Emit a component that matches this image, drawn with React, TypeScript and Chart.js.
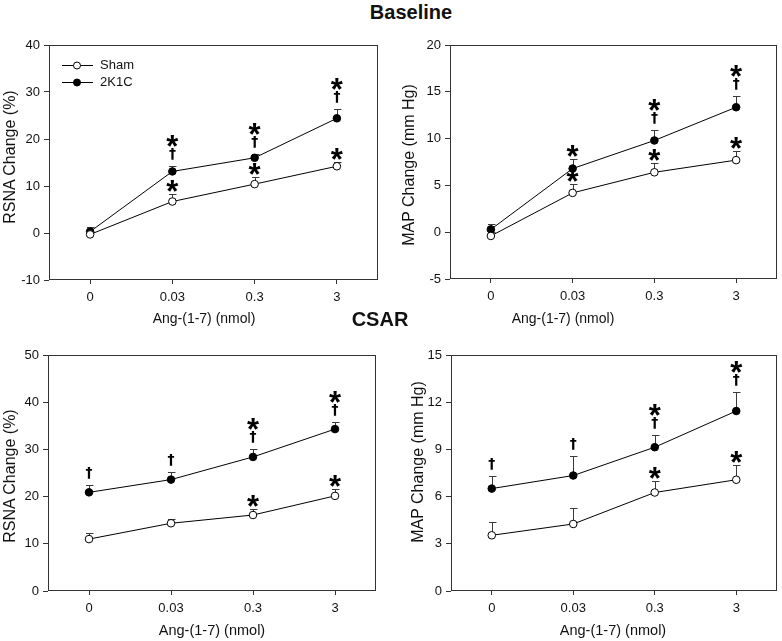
import React, { useEffect, useRef } from "react";
import { Chart, registerables } from "chart.js";

Chart.register(...registerables);

const FONT = "'Liberation Sans', Arial, Helvetica, sans-serif";
const AX = "#333333";
const TXT = "#111111";

// ---------- data ----------
const doses = ["0", "0.03", "0.3", "3"];
const groupNames = ["Sham", "2K1C"];

// Baseline – RSNA
const baseRsnaSham = [-0.3, 6.7, 10.4, 14.2];
const baseRsnaShamSem = [0.5, 1.5, 1.5, 1.0];
const baseRsna2K1C = [0.3, 13.1, 16.0, 24.4];
const baseRsna2K1CSem = [1.0, 1.2, 0.8, 1.9];
const baseRsnaShamSig = ["", "*", "*", "*"];
const baseRsna2K1CSig = ["", "*†", "*†", "*†"];
const baseRsnaTicks = [-10, 0, 10, 20, 30, 40];

// Baseline – MAP
const baseMapSham = [-0.4, 4.2, 6.4, 7.7];
const baseMapShamSem = [0.4, 0.9, 1.0, 1.0];
const baseMap2K1C = [0.3, 6.8, 9.8, 13.35];
const baseMap2K1CSem = [0.6, 1.0, 1.15, 1.2];
const baseMapShamSig = ["", "*", "*", "*"];
const baseMap2K1CSig = ["", "*", "*†", "*†"];
const baseMapTicks = [-5, 0, 5, 10, 15, 20];

// CSAR – RSNA
const csarRsnaSham = [11.0, 14.35, 16.1, 20.15];
const csarRsnaShamSem = [1.25, 1.0, 1.3, 1.45];
const csarRsna2K1C = [20.9, 23.6, 28.4, 34.3];
const csarRsna2K1CSem = [1.5, 1.6, 1.6, 1.6];
const csarRsnaShamSig = ["", "", "*", "*"];
const csarRsna2K1CSig = ["†", "†", "*†", "*†"];
const csarRsnaTicks = [0, 10, 20, 30, 40, 50];

// CSAR – MAP
const csarMapSham = [3.54, 4.26, 6.26, 7.07];
const csarMapShamSem = [0.83, 1.02, 0.74, 0.93];
const csarMap2K1C = [6.51, 7.34, 9.14, 11.44];
const csarMap2K1CSem = [0.79, 1.27, 0.75, 1.18];
const csarMapShamSig = ["", "", "*", "*"];
const csarMap2K1CSig = ["†", "†", "*†", "*†"];
const csarMapTicks = [0, 3, 6, 9, 12, 15];

const xTitle = "Ang-(1-7) (nmol)";
const rsnaTitle = "RSNA Change (%)";
const mapTitle = "MAP Change (mm Hg)";

type PanelCfg = {
  left: number; top: number; w: number; h: number;
  padTop: number; padRight: number; yW: number; xH: number;
  ticks: number[];
  sham: number[]; shamSem: number[]; shamSig: string[];
  k: number[]; kSem: number[]; kSig: string[];
  legend: boolean;
};

const panels: PanelCfg[] = [
  { left: 0, top: 30, w: 390, h: 290, padTop: 15, padRight: 12, yW: 49, xH: 40, ticks: baseRsnaTicks,
    sham: baseRsnaSham, shamSem: baseRsnaShamSem, shamSig: baseRsnaShamSig,
    k: baseRsna2K1C, kSem: baseRsna2K1CSem, kSig: baseRsna2K1CSig, legend: true },
  { left: 390, top: 30, w: 392, h: 290, padTop: 15, padRight: 4, yW: 60, xH: 41, ticks: baseMapTicks,
    sham: baseMapSham, shamSem: baseMapShamSem, shamSig: baseMapShamSig,
    k: baseMap2K1C, kSem: baseMap2K1CSem, kSig: baseMap2K1CSig, legend: false },
  { left: 0, top: 330, w: 390, h: 311, padTop: 25, padRight: 14, yW: 48, xH: 50, ticks: csarRsnaTicks,
    sham: csarRsnaSham, shamSem: csarRsnaShamSem, shamSig: csarRsnaShamSig,
    k: csarRsna2K1C, kSem: csarRsna2K1CSem, kSig: csarRsna2K1CSig, legend: false },
  { left: 390, top: 330, w: 392, h: 311, padTop: 25, padRight: 4, yW: 61, xH: 50, ticks: csarMapTicks,
    sham: csarMapSham, shamSem: csarMapShamSem, shamSig: csarMapShamSig,
    k: csarMap2K1C, kSem: csarMap2K1CSem, kSig: csarMap2K1CSig, legend: false },
];

function drawCentered(ctx: CanvasRenderingContext2D, s: string, x: number, cy: number) {
  const m = ctx.measureText(s);
  const asc = m.actualBoundingBoxAscent, desc = m.actualBoundingBoxDescent;
  ctx.fillText(s, x, cy + (asc - desc) / 2);
}

function makeDecor(cfg: PanelCfg) {
  const sems = [cfg.shamSem, cfg.kSem];
  const vals = [cfg.sham, cfg.k];
  const sigs = [cfg.shamSig, cfg.kSig];
  return {
    id: "decor",
    beforeDatasetsDraw(chart: any) {
      const { ctx, chartArea, scales } = chart;
      ctx.save();
      ctx.strokeStyle = AX;
      ctx.lineWidth = 1;
      ctx.strokeRect(Math.round(chartArea.left) + 0.5, Math.round(chartArea.top) + 0.5,
        Math.round(chartArea.right - chartArea.left) - 1, Math.round(chartArea.bottom - chartArea.top) - 1);
      ctx.strokeStyle = "#3a3a3a";
      for (let i = 0; i < 2; i++) {
        const meta = chart.getDatasetMeta(i);
        meta.data.forEach((pt: any, j: number) => {
          const x = Math.round(pt.x) + 0.5;
          const yTop = Math.round(scales.y.getPixelForValue(vals[i][j] + sems[i][j])) + 0.5;
          ctx.beginPath();
          ctx.moveTo(x, pt.y);
          ctx.lineTo(x, yTop);
          ctx.moveTo(x - 3.5, yTop);
          ctx.lineTo(x + 4, yTop);
          ctx.stroke();
        });
      }
      ctx.restore();
    },
    afterDatasetsDraw(chart: any) {
      const { ctx, chartArea, scales } = chart;
      ctx.save();
      ctx.fillStyle = "#000";
      ctx.textAlign = "center";
      for (let i = 0; i < 2; i++) {
        const meta = chart.getDatasetMeta(i);
        meta.data.forEach((pt: any, j: number) => {
          const s = sigs[i][j];
          if (!s) return;
          const yTop = scales.y.getPixelForValue(vals[i][j] + sems[i][j]);
          const hasStar = s.includes("*");
          const hasDag = s.includes("†");
          if (hasDag) {
            ctx.font = `bold 14px 'DejaVu Sans', ${FONT}`;
            drawCentered(ctx, "†", pt.x, yTop - 12);
          }
          if (hasStar) {
            ctx.font = `bold 31px ${FONT}`;
            drawCentered(ctx, "*", pt.x, hasDag ? yTop - 25 : yTop - 8);
          }
        });
      }
      if (cfg.legend) {
        chart.data.datasets.forEach((ds: any, i: number) => {
          const y = Math.round(chartArea.top + 20 + 17 * i) + 0.5;
          const l = chartArea.left;
          ctx.strokeStyle = "#000";
          ctx.lineWidth = 1;
          ctx.beginPath();
          ctx.moveTo(l + 13, y);
          ctx.lineTo(l + 44, y);
          ctx.stroke();
          ctx.beginPath();
          ctx.arc(l + 28, y, 3.5, 0, Math.PI * 2);
          ctx.fillStyle = ds.pointBackgroundColor;
          ctx.fill();
          ctx.stroke();
          ctx.fillStyle = TXT;
          ctx.textAlign = "left";
          ctx.textBaseline = "middle";
          ctx.font = `13px ${FONT}`;
          ctx.fillText(ds.label, l + 51, y);
        });
      }
      ctx.restore();
    },
  };
}

function Panel({ cfg }: { cfg: PanelCfg }) {
  const ref = useRef<HTMLCanvasElement>(null);
  useEffect(() => {
    const t = cfg.ticks;
    const tickFont = { family: FONT, size: 13 };
    const chart = new Chart(ref.current as HTMLCanvasElement, {
      type: "line",
      data: {
        labels: doses,
        datasets: [
          { label: groupNames[0], data: cfg.sham, borderColor: "#000", borderWidth: 1,
            pointBackgroundColor: "#ffffff", pointBorderColor: "#000", pointBorderWidth: 1,
            pointRadius: 3.8, tension: 0, fill: false },
          { label: groupNames[1], data: cfg.k, borderColor: "#000", borderWidth: 1,
            pointBackgroundColor: "#000000", pointBorderColor: "#000", pointBorderWidth: 1,
            pointRadius: 3.8, tension: 0, fill: false },
        ],
      },
      options: {
        responsive: false,
        animation: false,
        devicePixelRatio: 1,
        layout: { padding: { top: cfg.padTop, right: cfg.padRight, left: 0, bottom: 0 } },
        plugins: { legend: { display: false }, tooltip: { enabled: false } },
        scales: {
          x: {
            type: "category",
            offset: true,
            grid: { offset: false, drawOnChartArea: false, drawTicks: true, tickLength: 4, color: AX },
            border: { display: false },
            ticks: { font: tickFont, color: TXT, padding: 6, maxRotation: 0, autoSkip: false },
            afterFit: (s: any) => { s.height = cfg.xH; },
          },
          y: {
            type: "linear",
            min: t[0],
            max: t[t.length - 1],
            grid: { drawOnChartArea: false, drawTicks: true, tickLength: 5, color: AX },
            border: { display: false },
            ticks: { stepSize: t[1] - t[0], font: tickFont, color: TXT, padding: 4 },
            afterFit: (s: any) => { s.width = cfg.yW; },
          },
        },
      },
      plugins: [makeDecor(cfg)],
    } as any);
    return () => chart.destroy();
  }, [cfg]);
  return (
    <canvas ref={ref} width={cfg.w} height={cfg.h}
      style={{ position: "absolute", left: cfg.left, top: cfg.top, width: cfg.w, height: cfg.h }} />
  );
}

function Label({ text, x, y, size, bold, rotate }: { text: string; x: number; y: number; size: number; bold?: boolean; rotate?: boolean }) {
  return (
    <div style={{
      position: "absolute", left: x, top: y, whiteSpace: "nowrap",
      transform: `translate(-50%, -50%)${rotate ? " rotate(-90deg)" : ""}`,
      fontFamily: FONT, fontSize: size, fontWeight: bold ? "bold" : "normal", color: TXT, lineHeight: 1,
    }}>{text}</div>
  );
}

export default function App() {
  return (
    <div style={{ position: "absolute", left: 0, top: 0, width: 782, height: 641, background: "#fff", overflow: "hidden" }}>
      {panels.map((p, i) => <Panel key={i} cfg={p} />)}
      <Label text="Baseline" x={411} y={12} size={20} bold />
      <Label text="CSAR" x={380} y={319} size={20} bold />
      <Label text={xTitle} x={204} y={318} size={14} />
      <Label text={xTitle} x={563} y={318} size={14} />
      <Label text={xTitle} x={212} y={630} size={14.5} />
      <Label text={xTitle} x={613} y={630} size={14.5} />
      <Label text={rsnaTitle} x={10} y={157} size={16} rotate />
      <Label text={mapTitle} x={409} y={165} size={16} rotate />
      <Label text={rsnaTitle} x={10} y={476} size={16} rotate />
      <Label text={mapTitle} x={418} y={462} size={16} rotate />
    </div>
  );
}
